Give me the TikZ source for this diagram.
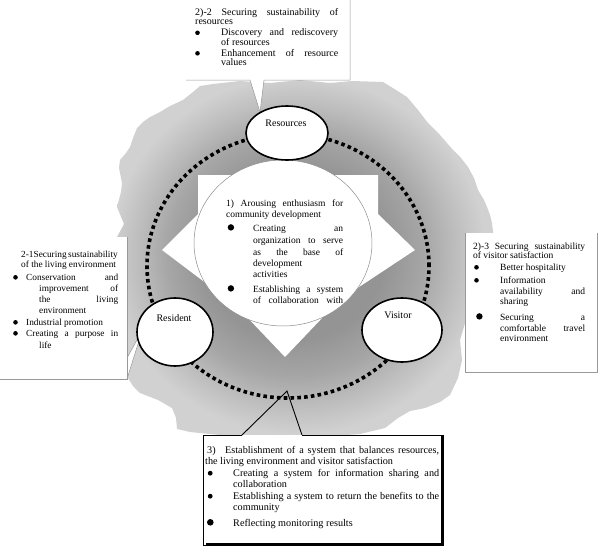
\documentclass[tikz,border=0pt]{standalone}
\usepackage{fontspec}
\setmainfont{Liberation Serif}
\usetikzlibrary{shapes.geometric}
\definecolor{gA}{gray}{0.58}
\definecolor{gB}{gray}{0.65}
\definecolor{gC}{gray}{0.74}
\definecolor{gD}{gray}{0.82}
\pgfdeclareradialshading{burst}{\pgfpoint{-2bp}{1bp}}{color(0bp)=(gA); color(12bp)=(gA); color(17bp)=(gB); color(21bp)=(gC); color(25bp)=(gD); color(50bp)=(gD)}
\newcommand\J[2]{\makebox[#1][s]{#2}}
\newcommand\BL[3]{\makebox[#1][l]{\hspace*{#2}\raisebox{0.6pt}{\tikz\fill (0pt,0pt) circle (#3);}}}
\newcommand\FL{\rule{0pt}{8pt}}
\begin{document}
\begin{tikzpicture}[x=1pt,y=-1pt,
  blob/.style={ellipse, draw=black, line width=1.6pt, fill=white, inner sep=0pt},
  lbl/.style={font=\fontsize{10}{12}\selectfont, inner sep=0pt, anchor=base},
  txt/.style={anchor=north west, inner sep=0pt, align=left},
  thinbox/.style={draw=black!40, line width=0.5pt},
  boldbox/.style={draw=black, line width=0.9pt},
  dotring/.style={draw=black, line width=3.6pt, dash pattern=on 3.6pt off 3.2pt},
]
\useasboundingbox (0,0) rectangle (600,554);
\fill[white] (0,0) rectangle (600,554);
% gray starburst
\shade[shading=burst] (213,84) -- (240,81) -- (270,83) -- (300,80) -- (330,83) -- (352,81) -- (383,82) -- (396,90) -- (407,97) -- (418,110) -- (428,123) -- (440,135) -- (453,150) -- (461,158) -- (468,167) -- (474,178) -- (478,190) -- (484,200) -- (487,207) -- (490,215) -- (492,223) -- (494,240) -- (493,260) -- (490,280) -- (475,300) -- (466,320) -- (460,340) -- (462,360) -- (458,378) -- (450,395) -- (440,402) -- (425,408) -- (410,411) -- (398,418) -- (385,428) -- (360,434) -- (320,437) -- (280,438) -- (240,437) -- (210,434) -- (190,432) -- (177,429) -- (176,418) -- (172,408) -- (158,400) -- (140,393) -- (133,386) -- (128,378) -- (125,360) -- (121,340) -- (119,320) -- (118,300) -- (117,280) -- (117,260) -- (117,237) -- (124,224) -- (117,207) -- (121,192) -- (122,183) -- (119,168) -- (120,160) -- (126,153) -- (130,147) -- (133,138) -- (137,128) -- (143,122) -- (150,117) -- (160,112) -- (170,106) -- (183,100) -- (193,92) -- (200,86) -- cycle;
% white star behind the core
\fill[white] (198,175) -- (378,175) -- (378,214) -- (415,250) -- (350,293) -- (325,315) -- (285,357) -- (245,315) -- (215,290) -- (162,250) -- (198,214) -- cycle;
% callout boxes
\coordinate (tipA) at (260,112);
\coordinate (tipB1) at (142,331);
\coordinate (tipB2) at (138,344);
\coordinate (tipC) at (287,391);
\fill[white] (186,0) rectangle (350,80);
\fill[white] (250,79) -- (tipA) -- (264,79) -- cycle;
\draw[thinbox] (186,80) -- (250,80) -- (tipA) -- (264,80) -- (350,80) -- (350,0);
\fill[white] (0,237) rectangle (127,379);
\fill[white] (127,358) -- (tipB1) -- (tipB2) -- (127,379) -- cycle;
\draw[thinbox] (0,379) -- (127,379) -- (127,237);
\draw[thinbox] (127,358) -- (tipB1);
\draw[thinbox] (127,379) -- (tipB2);
\fill[white] (465,233) rectangle (597,372);
\draw[thinbox] (465,233) -- (465,372) -- (597,372) -- (597,233);
\fill[white] (203,435) rectangle (443,545);
\draw[boldbox] (242,435) -- (203,435) -- (203,545) -- (443,545) -- (443,435) -- (302,435);
\draw[draw=black, line width=2.4pt] (442,436) -- (442,544) -- (206,544);
\draw[boldbox] (242,435) -- (tipC) -- (302,435);
% core and ring
\node[ellipse, draw=black!45, line width=0.5pt, fill=white, minimum width=178pt, minimum height=166pt, inner sep=0pt] (core) at (283,243) {};
\draw[dotring] (288,266) ellipse [x radius=141pt, y radius=132pt];
\node[blob, minimum width=82pt, minimum height=54pt] (res) at (287,133) {};
\node[blob, minimum width=76pt, minimum height=68pt] (resid) at (175,332) {};
\node[blob, minimum width=80pt, minimum height=64pt] (vis) at (402,330) {};
\node[lbl] (reslbl) at (286,126) {Resources};
\node[lbl] (residlbl) at (174,321) {Resident};
\node[lbl] (vislbl) at (398,318) {Visitor};
% texts
\node[txt, font={\fontsize{10}{9.5}\selectfont\lineskiplimit=-20pt}] (ttop) at (195,7) {%
\FL\J{143pt}{2)-2 Securing sustainability of}\\
resources\\[1.5pt]
\BL{26pt}{0pt}{2.3pt}\J{117pt}{Discovery and rediscovery}\\
\hspace*{26pt}of resources\\[1.5pt]
\BL{26pt}{0pt}{2.3pt}\J{117pt}{Enhancement of resource}\\
\hspace*{26pt}values};
\node[txt, font={\fontsize{9.3}{11}\selectfont\lineskiplimit=-20pt}] (tleft) at (12,249) {%
\FL\hspace*{9pt}\J{96pt}{2-1Securing sustainability}\\[-1pt]
\hspace*{9pt}of the living environment\\[2pt]
\BL{14pt}{1pt}{2.3pt}\J{92pt}{Conservation and}\\
\hspace*{27pt}\J{79pt}{improvement of}\\
\hspace*{27pt}\J{79pt}{the living}\\
\hspace*{27pt}environment\\[1pt]
\BL{14pt}{1pt}{2.3pt}Industrial promotion\\
\BL{14pt}{1pt}{2.3pt}\J{92pt}{Creating a purpose in}\\[1pt]
\hspace*{27pt}life};
\node[txt, font={\fontsize{9.5}{10.5}\selectfont\lineskiplimit=-20pt}] (tright) at (473,241) {%
\FL\J{112pt}{2)-3 Securing sustainability}\\[-1.5pt]
of visitor satisfaction\\[1.5pt]
\BL{27pt}{1pt}{2.3pt}Better hospitality\\[2.5pt]
\BL{27pt}{1pt}{2.3pt}Information\\[0.5pt]
\hspace*{27pt}\J{85pt}{availability and}\\[-0.5pt]
\hspace*{27pt}sharing\\[5.5pt]
\BL{27pt}{3pt}{3.2pt}\J{85pt}{Securing a}\\[0.5pt]
\hspace*{27pt}\J{85pt}{comfortable travel}\\[-0.5pt]
\hspace*{27pt}environment};
\node[txt, font={\fontsize{9.5}{11.5}\selectfont\lineskiplimit=-20pt}] (tcore) at (226,198) {%
\FL\J{117pt}{1) Arousing enthusiasm for}\\[-0.5pt]
community development\\[2.5pt]
\BL{27pt}{1.5pt}{3.2pt}\J{90pt}{Creating an}\\[0.5pt]
\hspace*{27pt}\J{90pt}{organization to serve}\\[0.5pt]
\hspace*{27pt}\J{90pt}{as the base of}\\[-0.5pt]
\hspace*{27pt}development\\[-0.5pt]
\hspace*{27pt}activities\\[3.5pt]
\BL{27pt}{1.5pt}{3.2pt}\J{90pt}{Establishing a system}\\[-0.5pt]
\hspace*{27pt}\J{90pt}{of collaboration with}};
\node[txt, font={\fontsize{10.2}{11.5}\selectfont\lineskiplimit=-20pt}] (tbottom) at (205,445) {%
\FL\hspace*{2pt}\makebox[18pt][l]{3)}\J{214pt}{Establishment of a system that balances resources,}\\[-0.5pt]
the living environment and visitor satisfaction\\[0.5pt]
\BL{28pt}{2.6pt}{2.4pt}\J{206pt}{Creating a system for information sharing and}\\[-0.5pt]
\hspace*{28pt}collaboration\\[0.5pt]
\BL{28pt}{2.6pt}{2.4pt}\J{206pt}{Establishing a system to return the benefits to the}\\[-0.5pt]
\hspace*{28pt}community\\[4.5pt]
\BL{28pt}{1.8pt}{3.3pt}Reflecting monitoring results};
\end{tikzpicture}
\end{document}
